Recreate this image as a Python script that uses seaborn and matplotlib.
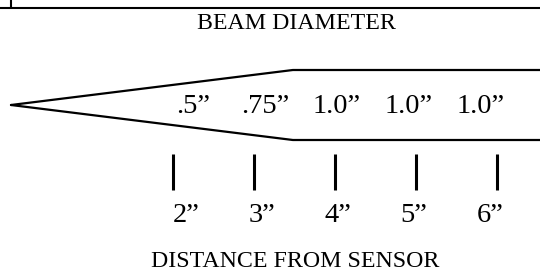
import numpy as np
import pandas as pd
import matplotlib
matplotlib.use("Agg")
import matplotlib.pyplot as plt
import seaborn as sns

# distance from sensor (inches) and beam diameter at that distance
distances = [2, 3, 4, 5, 6]
distance_labels = ['2\u201d', '3\u201d', '4\u201d', '5\u201d', '6\u201d']
diameter_labels = ['.5\u201d', '.75\u201d', '1.0\u201d', '1.0\u201d', '1.0\u201d']

# beam outline: starts at the sensor, reaches full 1.0" diameter at ~3.5"
beam_x = [0, 3.48, 7.0]
beam_diameter = [0, 1.0, 1.0]

sns.set_style("white")
plt.rcParams['font.family'] = ['Liberation Serif', 'DejaVu Serif']
plt.rcParams['text.color'] = 'black'

fig = plt.figure(figsize=(5.4, 2.71), dpi=100)
ax = fig.add_axes([0, 0, 1, 1])

# upper and lower edge of the beam
edges = pd.DataFrame({
    'x': beam_x + beam_x,
    'y': [d / 2 for d in beam_diameter] + [-d / 2 for d in beam_diameter],
    'edge': ['upper'] * 3 + ['lower'] * 3,
})
sns.lineplot(data=edges, x='x', y='y', units='edge', estimator=None, sort=False,
             color='black', linewidth=1.6, ax=ax)

# diameter labels inside the beam (spaced a bit tighter than the ticks)
for d, lab in zip(distances, diameter_labels):
    ax.text(2.247 + 0.889 * (d - 2), -0.114, lab, ha='center', va='baseline', fontsize=20.5)

# distance tick marks and labels
for d, lab in zip(distances, distance_labels):
    ax.plot([d, d], [-0.70, -1.214], color='black', linewidth=2.2, solid_capstyle='butt')
    ax.text(2.16 + 0.938 * (d - 2), -1.671, lab, ha='center', va='baseline', fontsize=20.5)

ax.text(3.52, 1.086, 'BEAM DIAMETER', ha='center', va='baseline', fontsize=17.2)
ax.text(3.51, -2.314, 'DISTANCE FROM SENSOR', ha='center', va='baseline', fontsize=17.2)

# frame of the table row above
ax.axhline(1.386, color='black', linewidth=1.5)
ax.plot([0, 0], [1.386, 1.6], color='black', linewidth=1.5)

ax.set_xlim(-11 / 81, 529 / 81)
ax.set_ylim(-166 / 70, 105 / 70)
ax.axis('off')

fig.savefig('out.png', dpi=100)
